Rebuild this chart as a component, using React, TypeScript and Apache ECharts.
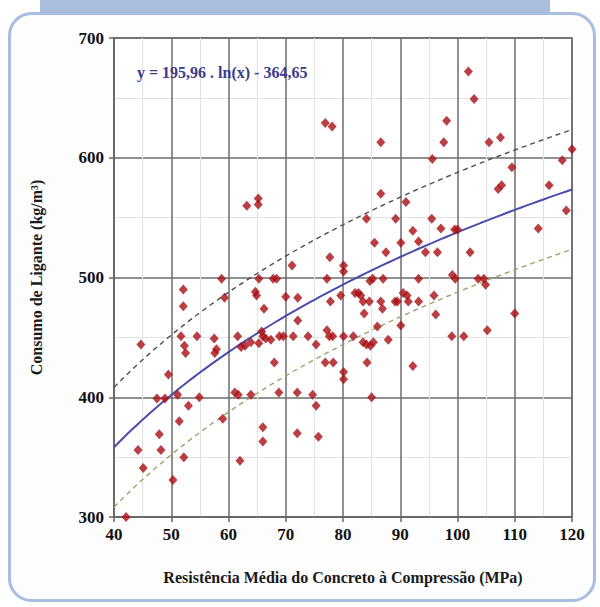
import React, { useEffect, useRef } from "react";
import * as echarts from "echarts";

// Resistência média à compressão (MPa) de cada traço
const resistencia = [
  76.9, 78.1, 63.2, 65.2, 65.2, 101.9, 102.9, 98.1, 97.6, 86.6, 105.5, 107.5, 95.6, 120, 118.3, 109.5,
  86.6, 91, 116, 107.7, 107.1, 119,
  71.1, 77.7, 58.8, 65.3, 67.8, 68.4, 77.2, 52.1, 64.7, 64.9, 52.1, 59.3, 70, 72.1, 77.8, 66.2, 72.1,
  44.7, 51.7, 54.5, 52.3, 52.5, 57.5, 57.9, 57.6, 61.6, 62.2, 62.9, 63.9, 65.3, 65.8, 66, 66.5, 67.4,
  68.9, 69.6, 71.3, 73.9, 75.3, 77.2, 77.6, 78.2, 49.5, 68, 76.9, 78.3, 61.1, 61.7, 63.9, 68.8, 72,
  74.7, 47.5, 48.9, 51.1, 54.9,
  53, 75.3, 51.4, 59, 47.9, 66, 66, 72, 75.7, 44.2, 48.2, 52.2, 45.1, 62, 50.3, 42.1,
  84.1, 89.2, 95.5, 97.1, 92.2, 99.5, 100, 114.1, 85.5, 90.1, 93.2, 87.5, 94.4, 96.5, 102.2, 80.1,
  80.1, 85.2, 84.7, 87, 93.2, 99.1, 99.6, 103.6, 104.6, 104.9, 79.6, 82.1, 82.7, 83.1, 83.5, 84.6,
  86.6, 89.1, 89.5, 90.5, 91.2, 91.4, 93.2, 95.9, 86.9, 83.7, 96.2, 110, 86, 90.1, 80.1, 81.8, 83.5,
  84.1, 84.8, 85.3, 87.9, 99, 101.1, 105.2, 84.2, 92.2, 80.1, 80.1, 85,
];

// Consumo de ligante (kg/m³) correspondente
const consumo = [
  629, 626, 560, 566, 561, 672, 649, 631, 613, 613, 613, 617, 599, 607, 598, 592,
  570, 563, 577, 577, 574, 556,
  510, 517, 499, 499, 499, 499, 499, 490, 488, 485, 476, 483, 484, 483, 480, 474, 464,
  444, 451, 451, 443, 437, 449, 440, 437, 451, 442, 443, 446, 445, 455, 451, 449, 448,
  451, 451, 451, 451, 444, 456, 451, 451, 419, 429, 429, 429, 404, 402, 402, 404, 404,
  402, 399, 399, 402, 400,
  393, 393, 380, 382, 369, 375, 363, 370, 367, 356, 356, 350, 341, 347, 331, 300,
  549, 549, 549, 541, 539, 540, 540, 541, 529, 529, 530, 521, 521, 521, 521, 510,
  505, 499, 497, 499, 499, 502, 499, 499, 499, 494, 485, 487, 487, 485, 480, 480,
  480, 480, 480, 487, 485, 480, 480, 485, 474, 470, 469, 470, 459, 460, 451, 451, 446,
  444, 443, 446, 448, 451, 451, 456, 429, 426, 421, 415, 400,
];

// Ajuste logarítmico: y = A . ln(x) + B, com faixa de ±50 kg/m³
const coefA = 195.96;
const coefB = -364.65;
const faixa = 50;
const equacao = "y = 195,96 . ln(x) - 364,65";

const xMin = 40;
const xMax = 120;
const yMin = 300;
const yMax = 700;

const eixoX = "Resistência Média do Concreto à Compressão (MPa)";
const eixoY = "Consumo de Ligante (kg/m³)";

const ajuste = (x: number) => coefA * Math.log(x) + coefB;

export default function App() {
  const ref = useRef<HTMLDivElement>(null);

  useEffect(() => {
    if (!ref.current) return;
    const chart = echarts.init(ref.current, null, { renderer: "svg" });

    const pontos = resistencia.map((x, i) => [x, consumo[i]]);
    const xs: number[] = [];
    for (let x = xMin; x <= xMax; x += 1) xs.push(x);
    const curva = xs.map((x) => [x, ajuste(x)]);
    const superior = xs.map((x) => [x, ajuste(x) + faixa]);
    const inferior = xs.map((x) => [x, ajuste(x) - faixa]);

    const fonte = "Liberation Serif";

    chart.setOption({
      animation: false,
      backgroundColor: "#ffffff",
      textStyle: { fontFamily: fonte },
      graphic: [
        {
          type: "rect",
          z: -10,
          shape: { x: 40, y: 0, width: 510, height: 16 },
          style: { fill: "#a9bedd" },
          silent: true,
        },
        {
          type: "rect",
          z: -9,
          shape: { x: 9.5, y: 13.5, width: 585, height: 587, r: 22 },
          style: { fill: "#fdfdfe", stroke: "#a8bde0", lineWidth: 3 },
          silent: true,
        },
        {
          type: "text",
          z: 100,
          left: 137,
          top: 64,
          style: {
            text: equacao,
            fontFamily: fonte,
            fontWeight: "bold",
            fontSize: 16,
            fill: "#3b3b8e",
          },
        },
      ],
      grid: {
        left: 114,
        right: 28,
        top: 38,
        bottom: 90,
        show: true,
        backgroundColor: "#ffffff",
        borderColor: "#666666",
        borderWidth: 1.5,
      },
      xAxis: {
        type: "value",
        min: xMin,
        max: xMax,
        interval: 10,
        name: eixoX,
        nameLocation: "middle",
        nameGap: 52,
        nameTextStyle: { fontFamily: fonte, fontWeight: "bold", fontSize: 16, color: "#1a1a1a" },
        axisLine: { show: true, lineStyle: { color: "#666666", width: 1.5 } },
        axisTick: { show: true, length: 5, lineStyle: { color: "#666666", width: 1.5 } },
        axisLabel: { fontFamily: fonte, fontWeight: "bold", fontSize: 17, color: "#111", margin: 9 },
        splitLine: { show: true, lineStyle: { color: "#6c6c6c", width: 1.5 } },
        minorTick: { show: false, splitNumber: 2 },
        minorSplitLine: { show: true, lineStyle: { color: "#e2e2e2", width: 1 } },
      },
      yAxis: {
        type: "value",
        min: yMin,
        max: yMax,
        interval: 100,
        name: eixoY,
        nameLocation: "middle",
        nameGap: 70,
        nameTextStyle: { fontFamily: fonte, fontWeight: "bold", fontSize: 16, color: "#1a1a1a" },
        axisLine: { show: true, lineStyle: { color: "#666666", width: 1.5 } },
        axisTick: { show: true, length: 5, lineStyle: { color: "#666666", width: 1.5 } },
        axisLabel: { fontFamily: fonte, fontWeight: "bold", fontSize: 17, color: "#111", margin: 10 },
        splitLine: { show: true, lineStyle: { color: "#6c6c6c", width: 1.5 } },
        minorTick: { show: false, splitNumber: 2 },
        minorSplitLine: { show: true, lineStyle: { color: "#e2e2e2", width: 1 } },
      },
      series: [
        {
          type: "line",
          data: superior,
          showSymbol: false,
          lineStyle: { color: "#4e4e4e", width: 1.4, type: [5, 4] },
          z: 2,
        },
        {
          type: "line",
          data: inferior,
          showSymbol: false,
          lineStyle: { color: "#9aa46c", width: 1.4, type: [5, 4] },
          z: 2,
        },
        {
          type: "line",
          data: curva,
          showSymbol: false,
          lineStyle: { color: "#4c4cab", width: 2 },
          z: 3,
        },
        {
          type: "scatter",
          data: pontos,
          symbol: "diamond",
          symbolSize: [9, 10],
          itemStyle: { color: "#a90f14" },
          z: 4,
        },
      ],
    });

    return () => chart.dispose();
  }, []);

  return (
    <div
      ref={ref}
      style={{ position: "fixed", left: 0, top: 0, width: 600, height: 607 }}
    />
  );
}
